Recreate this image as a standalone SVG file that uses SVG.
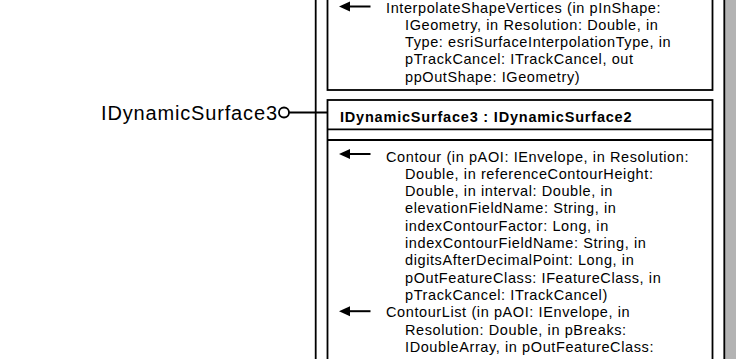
<svg xmlns="http://www.w3.org/2000/svg" width="751" height="359" viewBox="0 0 751 359">
<defs>
<style>
.ln{fill:none;stroke:#000;stroke-width:1.8}
.t{font-family:"Liberation Sans",Arial,sans-serif;font-size:14.5px;letter-spacing:0.6px;fill:#000}
.h{font-family:"Liberation Sans",Arial,sans-serif;font-size:14.5px;letter-spacing:0.8px;font-weight:bold;fill:#000}
.lbl{font-family:"Liberation Sans",Arial,sans-serif;font-size:20px;fill:#000}
</style>
<g id="arrow">
<path d="M-1,0 L10,-5 L10,5 Z" fill="#000"/>
<line x1="9" y1="0" x2="30.5" y2="0" stroke="#000" stroke-width="2"/>
</g>
</defs>
<rect width="751" height="359" fill="#fff"/>
<g id="class">
<rect x="725" y="-5" width="11" height="370" fill="#b3b3b3"/>
<rect class="ln" x="315.7" y="-5" width="408.6" height="370"/>
</g>
<g id="interface2">
<rect class="ln" x="327.5" y="-5" width="385" height="95"/>
<use href="#arrow" x="340" y="6.5"/>
<text class="t" x="386" y="12.5">InterpolateShapeVertices (in pInShape:</text>
<text class="t" x="405" y="29.8">IGeometry, in Resolution: Double, in</text>
<text class="t" x="405" y="47.1">Type: esriSurfaceInterpolationType, in</text>
<text class="t" x="405" y="64.4">pTrackCancel: ITrackCancel, out</text>
<text class="t" x="405" y="81.7">ppOutShape: IGeometry)</text>
</g>
<g id="interface3">
<rect class="ln" x="327.5" y="100" width="385" height="265"/>
<line class="ln" x1="327.5" y1="129.3" x2="712.5" y2="129.3"/>
<line class="ln" x1="327.5" y1="140" x2="712.5" y2="140"/>
<text class="h" x="340" y="121.5">IDynamicSurface3 : IDynamicSurface2</text>
<use href="#arrow" x="340" y="154"/>
<text class="t" x="386" y="161.5">Contour (in pAOI: IEnvelope, in Resolution:</text>
<text class="t" x="405" y="178.8">Double, in referenceContourHeight:</text>
<text class="t" x="405" y="196.1">Double, in interval: Double, in</text>
<text class="t" x="405" y="213.4">elevationFieldName: String, in</text>
<text class="t" x="405" y="230.7">indexContourFactor: Long, in</text>
<text class="t" x="405" y="248">indexContourFieldName: String, in</text>
<text class="t" x="405" y="265.3">digitsAfterDecimalPoint: Long, in</text>
<text class="t" x="405" y="282.6">pOutFeatureClass: IFeatureClass, in</text>
<text class="t" x="405" y="299.9">pTrackCancel: ITrackCancel)</text>
<use href="#arrow" x="340" y="311.2"/>
<text class="t" x="386" y="317.2">ContourList (in pAOI: IEnvelope, in</text>
<text class="t" x="405" y="334.5">Resolution: Double, in pBreaks:</text>
<text class="t" x="405" y="351.8">IDoubleArray, in pOutFeatureClass:</text>
</g>
<g id="connectors">
<line class="ln" x1="289" y1="112.5" x2="327.5" y2="112.5"/>
<circle class="ln" cx="284" cy="112.5" r="5" fill="#fff"/>
</g>
<g id="lollipop-label">
<text class="lbl" x="101" y="119.5" textLength="176" lengthAdjust="spacing">IDynamicSurface3</text>
</g>
</svg>
